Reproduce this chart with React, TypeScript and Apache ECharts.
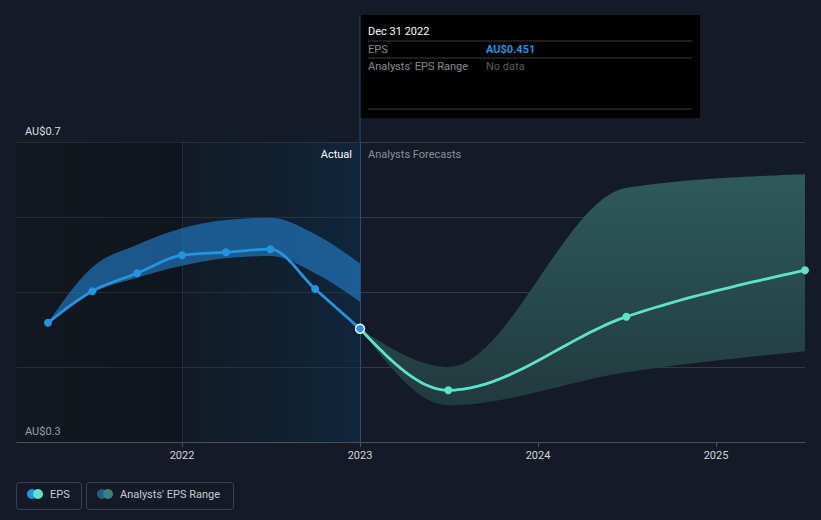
import React, { useEffect, useRef } from "react";
import * as echarts from "echarts";

// ---- data ----
const actualX = [2021.247, 2021.496, 2021.748, 2022.0, 2022.247, 2022.496, 2022.748, 2023.0];
const actualEps = [0.459, 0.501, 0.525, 0.549, 0.553, 0.557, 0.504, 0.451];
const actualLow = [0.459, 0.499, 0.519, 0.535, 0.545, 0.548, 0.525, 0.487];
const actualHigh = [0.459, 0.533, 0.563, 0.585, 0.596, 0.599, 0.577, 0.538];

const forecastX = [2023.0, 2023.496, 2024.496, 2025.5];
const forecastEps = [0.451, 0.369, 0.467, 0.529];
const forecastLow = [0.451, 0.349, 0.393, 0.421];
const forecastHigh = [0.451, 0.4, 0.639, 0.657];

const yearTicks = [2022, 2023, 2024, 2025];
const yTickLabels: Record<string, string> = { "0.7": "AU$0.7", "0.3": "AU$0.3" };
const xMin = 2021.073;
const xMax = 2025.5;

const tooltipTitle = "Dec 31 2022";
const tooltipEps = "AU$0.451";
const tooltipRange = "No data";

const FONT = "Roboto, 'Noto Sans', sans-serif";

// d3-style monotoneX curve, sampled in pixel space
function monotone(pts: number[][], steps = 24): number[][] {
  const n = pts.length;
  if (n < 3) return pts.slice();
  const sign = (v: number) => (v < 0 ? -1 : 1);
  const slope3 = (p0: number[], p1: number[], p2: number[]) => {
    const h0 = p1[0] - p0[0];
    const h1 = p2[0] - p1[0];
    const s0 = (p1[1] - p0[1]) / (h0 || 1e-9);
    const s1 = (p2[1] - p1[1]) / (h1 || 1e-9);
    const p = (s0 * h1 + s1 * h0) / (h0 + h1);
    return (sign(s0) + sign(s1)) * Math.min(Math.abs(s0), Math.abs(s1), 0.5 * Math.abs(p)) || 0;
  };
  const slope2 = (p0: number[], p1: number[], t: number) => {
    const h = p1[0] - p0[0];
    return h ? (3 * (p1[1] - p0[1]) / h - t) / 2 : t;
  };
  const t: number[] = new Array(n);
  for (let i = 1; i < n - 1; i++) t[i] = slope3(pts[i - 1], pts[i], pts[i + 1]);
  t[0] = slope2(pts[0], pts[1], t[1]);
  t[n - 1] = slope2(pts[n - 2], pts[n - 1], t[n - 2]);
  const out: number[][] = [pts[0].slice()];
  for (let i = 0; i < n - 1; i++) {
    const [x0, y0] = pts[i];
    const [x1, y1] = pts[i + 1];
    const dx = (x1 - x0) / 3;
    const c1 = [x0 + dx, y0 + dx * t[i]];
    const c2 = [x1 - dx, y1 - dx * t[i + 1]];
    for (let k = 1; k <= steps; k++) {
      const u = k / steps;
      const a = (1 - u) ** 3, b = 3 * (1 - u) ** 2 * u, c = 3 * (1 - u) * u * u, d = u ** 3;
      out.push([a * x0 + b * c1[0] + c * c2[0] + d * x1, a * y0 + b * c1[1] + c * c2[1] + d * y1]);
    }
  }
  return out;
}

export default function App() {
  const ref = useRef<HTMLDivElement>(null);

  useEffect(() => {
    if (!ref.current) return;
    const chart = echarts.init(ref.current, null, { renderer: "svg" });

    const zip = (xs: number[], ys: number[]) => xs.map((x, i) => [x, ys[i]]);

    const bandSeries = (name: string, xs: number[], lo: number[], hi: number[], fill: any) => ({
      type: "custom",
      name,
      silent: true,
      z: 2,
      data: [[xs[0], lo[0]]],
      renderItem: (_params: any, api: any) => {
        const up = monotone(xs.map((x, i) => api.coord([x, hi[i]])));
        const dn = monotone(xs.map((x, i) => api.coord([x, lo[i]])));
        return {
          type: "polygon",
          shape: { points: up.concat(dn.reverse()) },
          style: { fill },
        };
      },
    });

    const curveSeries = (name: string, xs: number[], ys: number[], color: string) => ({
      type: "custom",
      name,
      silent: true,
      z: 3,
      data: [[xs[0], ys[0]]],
      renderItem: (_params: any, api: any) => ({
        type: "polyline",
        shape: { points: monotone(xs.map((x, i) => api.coord([x, ys[i]]))) },
        style: { stroke: color, lineWidth: 2.8, fill: "none", lineJoin: "round", lineCap: "round" },
      }),
    });

    const option: any = {
      animation: false,
      backgroundColor: "#151b26",
      grid: { left: 17, right: 16, top: 142, bottom: 78, containLabel: false },
      xAxis: {
        type: "value",
        min: xMin,
        max: xMax,
        splitLine: { show: false },
        axisLine: { show: true, lineStyle: { color: "#4b5059", width: 1 } },
        axisTick: { show: true, customValues: yearTicks, length: 5, lineStyle: { color: "#4b5059" } },
        axisLabel: {
          customValues: yearTicks,
          formatter: (v: number) => String(Math.round(v)),
          color: "#d2d4d8",
          fontFamily: FONT,
          fontSize: 11,
          margin: 8,
        },
      },
      yAxis: {
        type: "value",
        min: 0.3,
        max: 0.7,
        interval: 0.1,
        axisLine: { show: false },
        axisTick: { show: false },
        splitLine: { show: true, lineStyle: { color: "#343a44", width: 1 } },
        axisLabel: {
          inside: true,
          margin: 8,
          verticalAlign: "bottom",
          padding: [0, 0, 5, 0],
          color: "#dcdee2",
          fontFamily: FONT,
          fontSize: 11,
          formatter: (v: number) => yTickLabels[(Math.round(v * 10) / 10).toFixed(1)] || "",
        },
      },
      series: [
        bandSeries("Analysts' EPS Range (past)", actualX, actualLow, actualHigh, "rgba(36,128,205,0.62)"),
        bandSeries(
          "Analysts' EPS Range",
          forecastX,
          forecastLow,
          forecastHigh,
          new echarts.graphic.LinearGradient(0, 0, 0, 1, [
            { offset: 0, color: "#2f5a5a" },
            { offset: 1, color: "#213a3e" },
          ])
        ),
        curveSeries("EPS forecast line", forecastX, forecastEps, "#5ee3cb"),
        curveSeries("EPS line", actualX, actualEps, "#2394df"),
        {
          type: "scatter",
          name: "EPS forecast",
          z: 4,
          silent: true,
          symbolSize: 8,
          itemStyle: { color: "#5ee3cb", opacity: 1 },
          data: zip(forecastX, forecastEps).slice(1),
        },
        {
          type: "scatter",
          name: "EPS",
          z: 5,
          silent: true,
          symbolSize: 8,
          itemStyle: { color: "#2394df", opacity: 1 },
          data: zip(actualX, actualEps).map((d, i) =>
            i === actualX.length - 1
              ? { value: d, symbolSize: 9, itemStyle: { borderColor: "#ffffff", borderWidth: 1.5 } }
              : { value: d }
          ),
          markArea: {
            silent: true,
            data: [
              [
                {
                  xAxis: xMin,
                  itemStyle: {
                    color: new echarts.graphic.LinearGradient(0, 0, 1, 0, [
                      { offset: 0, color: "rgba(14,14,15,0.3)" },
                      { offset: 1, color: "rgba(9,10,11,0.4)" },
                    ]),
                  },
                },
                { xAxis: 2022 },
              ],
              [
                {
                  xAxis: 2022,
                  itemStyle: {
                    color: new echarts.graphic.LinearGradient(0, 0, 1, 0, [
                      { offset: 0, color: "rgba(8,27,38,0.3)" },
                      { offset: 1, color: "rgba(11,49,80,0.5)" },
                    ]),
                  },
                },
                { xAxis: 2023 },
              ],
            ],
          },
          markLine: {
            silent: true,
            symbol: "none",
            label: { show: false },
            z: 1,
            data: [
              { xAxis: 2022, lineStyle: { color: "rgba(40,110,170,0.22)", type: "solid", width: 1 } },
              { xAxis: 2023, lineStyle: { color: "#1c5283", type: "solid", width: 1 } },
            ],
          },
        },
      ],
    };

    chart.setOption(option);

    const px2023 = chart.convertToPixel({ xAxisIndex: 0 }, 2023) as number;
    const gridTop = chart.convertToPixel({ yAxisIndex: 0 }, 0.7) as number;
    const tipL = px2023;
    const tipT = 15;
    const tipW = 340;
    const tipH = 103;

    chart.setOption({
      graphic: [
        {
          type: "line",
          silent: true,
          shape: { x1: px2023, y1: tipT, x2: px2023, y2: gridTop },
          style: { stroke: "#1c5283", lineWidth: 1 },
          z: 1,
        },
        {
          type: "text",
          silent: true,
          x: px2023 - 8,
          y: gridTop + 12,
          style: { text: "Actual", fill: "#ffffff", font: `11px ${FONT}`, verticalAlign: "middle", align: "right" },
          z: 5,
        },
        {
          type: "text",
          silent: true,
          x: px2023 + 8,
          y: gridTop + 12,
          style: { text: "Analysts Forecasts", fill: "#8b9097", font: `11px ${FONT}`, verticalAlign: "middle", align: "left" },
          z: 5,
        },
        {
          type: "group",
          x: tipL,
          y: tipT,
          z: 10,
          silent: true,
          children: [
            { type: "rect", shape: { x: 0, y: 0, width: tipW, height: tipH }, style: { fill: "#000000" } },
            { type: "text", x: 8, y: 16, style: { text: tooltipTitle, fill: "#ffffff", font: `11px ${FONT}`, verticalAlign: "middle" } },
            { type: "line", shape: { x1: 8, y1: 26, x2: tipW - 8, y2: 26 }, style: { stroke: "#3a3d42", lineWidth: 1 } },
            { type: "text", x: 8, y: 34, style: { text: "EPS", fill: "#8a8d92", font: `11px ${FONT}`, verticalAlign: "middle" } },
            { type: "text", x: 126, y: 34, style: { text: tooltipEps, fill: "#2394df", font: `bold 11px ${FONT}`, verticalAlign: "middle" } },
            { type: "line", shape: { x1: 8, y1: 43, x2: tipW - 8, y2: 43 }, style: { stroke: "#3a3d42", lineWidth: 1 } },
            { type: "text", x: 8, y: 51, style: { text: "Analysts' EPS Range", fill: "#8a8d92", font: `11px ${FONT}`, verticalAlign: "middle" } },
            { type: "text", x: 126, y: 51, style: { text: tooltipRange, fill: "#5a5d62", font: `11px ${FONT}`, verticalAlign: "middle" } },
            { type: "line", shape: { x1: 8, y1: 94, x2: tipW - 8, y2: 94 }, style: { stroke: "#3a3d42", lineWidth: 1 } },
          ],
        },
        {
          type: "group",
          x: 0,
          y: 0,
          silent: true,
          children: [
            { type: "rect", shape: { x: 16.5, y: 482.5, width: 65, height: 27, r: 3 }, style: { fill: "none", stroke: "#3c414a", lineWidth: 1 } },
            { type: "circle", shape: { cx: 32, cy: 494, r: 5 }, style: { fill: "#2394df" } },
            { type: "circle", shape: { cx: 38, cy: 494, r: 5 }, style: { fill: "#5ee3cb" } },
            { type: "text", x: 50, y: 494, style: { text: "EPS", fill: "#c9ccd1", font: `11px ${FONT}`, verticalAlign: "middle" } },
            { type: "rect", shape: { x: 86.5, y: 482.5, width: 147, height: 27, r: 3 }, style: { fill: "none", stroke: "#3c414a", lineWidth: 1 } },
            { type: "circle", shape: { cx: 102, cy: 494, r: 5 }, style: { fill: "#1f5f8f" } },
            { type: "circle", shape: { cx: 108, cy: 494, r: 5 }, style: { fill: "#3e7f7a" } },
            { type: "text", x: 120, y: 494, style: { text: "Analysts' EPS Range", fill: "#c9ccd1", font: `11px ${FONT}`, verticalAlign: "middle" } },
          ],
        },
      ],
    });

    return () => chart.dispose();
  }, []);

  return <div ref={ref} style={{ width: 821, height: 520, position: "absolute", left: 0, top: 0 }} />;
}
